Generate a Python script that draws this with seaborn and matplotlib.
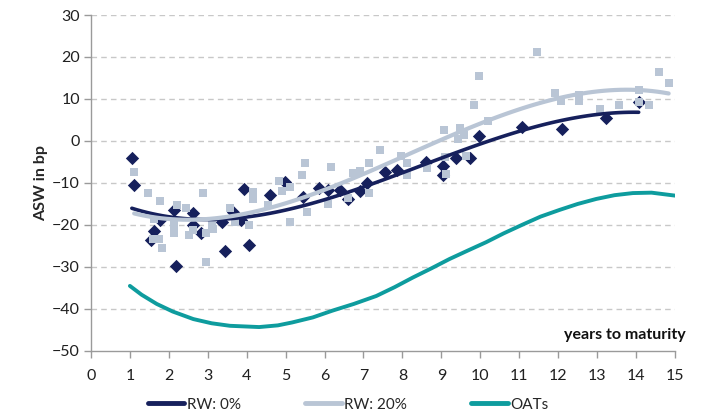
from matplotlib import pyplot as plt
import pandas as pd
import numpy as np
import seaborn as sns

# RW: 0% (dark diamonds)
rw0_years = [1.05, 1.1, 1.53, 1.63, 1.77, 2.14, 2.19, 2.61, 2.61, 2.83,
             3.36, 3.44, 3.66, 3.85, 3.92, 4.07, 4.6, 4.99, 5.45, 5.86,
             6.1, 6.4, 6.6, 6.9, 7.1, 7.56, 7.86, 8.6, 9.05, 9.05,
             9.38, 9.74, 9.98, 11.07, 12.1, 13.23, 14.07]
rw0_asw = [-4.1, -10.5, -23.6, -21.5, -18.8, -16.4, -29.8, -17.1, -20.0, -21.8,
           -19.2, -26.1, -16.8, -18.8, -11.5, -24.8, -12.9, -9.7, -13.3, -11.1,
           -11.7, -11.7, -13.8, -11.8, -10.0, -7.3, -6.9, -5.0, -5.9, -8.2,
           -4.1, -4.0, 1.3, 3.3, 2.9, 5.5, 9.4]

# RW: 20% (light squares)
rw20_years = [1.11, 1.47, 1.62, 1.6, 1.76, 1.77, 1.83, 2.14, 2.14, 2.2,
              2.44, 2.53, 2.61, 2.89, 2.96, 2.96, 3.1, 3.13, 3.56, 3.7,
              4.06, 4.15, 4.15, 4.55, 4.84, 4.9, 5.12, 5.12, 5.42, 5.51,
              5.54, 6.1, 6.17, 6.6, 6.74, 6.92, 7.13, 7.13, 7.43, 7.97,
              8.12, 8.12, 8.63, 9.08, 9.1, 9.13, 9.44, 9.47, 9.57, 9.63,
              9.83, 9.98, 10.21, 11.47, 11.93, 12.08, 12.53, 12.53, 13.08, 13.56,
              14.07, 14.07, 14.33, 14.58, 14.84]
rw20_asw = [-7.5, -12.5, -18.6, -23.4, -23.4, -14.2, -25.4, -20.0, -21.8, -15.2,
            -16.0, -22.5, -21.2, -12.5, -21.8, -28.7, -20.0, -21.0, -16.0, -19.4,
            -20.1, -12.1, -13.8, -15.2, -9.5, -11.8, -10.9, -19.4, -8.1, -5.2,
            -16.8, -15.1, -6.1, -13.6, -7.7, -7.1, -5.2, -12.5, -2.1, -3.6,
            -5.3, -8.1, -6.5, 2.5, -3.9, -7.9, 0.4, 3.2, 1.4, -3.5,
            8.6, 15.5, 4.8, 21.3, 11.5, 9.6, 11.0, 9.6, 7.6, 8.6,
            12.1, 9.4, 8.6, 16.5, 13.9]

# OATs curve
oat_years = [1.0, 1.3, 1.69, 2.1, 2.63, 3.1, 3.57, 4.32, 4.8, 5.17,
             5.7, 6.2, 6.75, 7.33, 7.8, 8.27, 8.75, 9.21, 9.7, 10.15,
             10.6, 11.09, 11.55, 12.04, 12.5, 12.98, 13.45, 13.92, 14.4, 15.0]
oat_asw = [-34.5, -36.6, -38.8, -40.6, -42.4, -43.4, -44.0, -44.3, -43.9, -43.2,
           -42.0, -40.4, -38.8, -36.9, -34.8, -32.5, -30.3, -28.1, -26.0, -24.1,
           -22.0, -19.9, -18.0, -16.4, -15.0, -13.8, -12.9, -12.4, -12.3, -13.0]

navy = "#16205c"
light = "#b9c5d5"
teal = "#0e9c9e"

sns.set_style("white")
plt.rcParams['font.family'] = ['Lato', 'DejaVu Sans']

fig = plt.figure(figsize=(7.03, 4.19), dpi=100)
ax = fig.add_axes([0.1294, 0.1623, 0.8306, 0.8019])

ax.scatter(rw0_years, rw0_asw, marker="D", s=46, color=navy, linewidths=0, zorder=3)
ax.scatter(rw20_years, rw20_asw, marker="s", s=26, color=light, linewidths=0, zorder=4)

sns.regplot(x=rw0_years, y=rw0_asw, order=3, ci=None, scatter=False, ax=ax,
            line_kws=dict(color=navy, lw=2.6, zorder=5, solid_capstyle="round"))
sns.regplot(x=rw20_years, y=rw20_asw, order=3, ci=None, scatter=False, ax=ax,
            line_kws=dict(color=light, lw=3.0, zorder=6, solid_capstyle="round"))
sns.lineplot(x=oat_years, y=oat_asw, color=teal, lw=2.8, ax=ax, zorder=5)

ax.set_xlim(0, 15)
ax.set_ylim(-50, 30)
ax.set_xticks(range(0, 16))
ax.set_yticks(range(-50, 31, 10))
for yv in range(-40, 31, 10):
    ax.axhline(yv, color="#c8c8c8", lw=1.0, ls=(0, (4, 3)), zorder=1)

for side in ["top", "right"]:
    ax.spines[side].set_visible(False)
for side in ["left", "bottom"]:
    ax.spines[side].set_color("#9a9a9a")
    ax.spines[side].set_linewidth(1.0)
ax.tick_params(axis="both", direction="out", length=5, width=1.0, color="#9a9a9a",
               labelsize=11.5, labelcolor="#202020", left=True, bottom=True)
ax.tick_params(axis="x", pad=8)
ax.tick_params(axis="y", pad=3)

ax.set_ylabel("ASW in bp", fontsize=11.5, fontweight="bold", labelpad=3)
ax.text(1.019, 0.028, "years to maturity", transform=ax.transAxes, ha="right",
        va="bottom", fontsize=11.5, fontweight="bold", color="#111111")

handles = [plt.Line2D([], [], color=navy, lw=3.5),
           plt.Line2D([], [], color=light, lw=3.5),
           plt.Line2D([], [], color=teal, lw=3.5)]
fig.legend(handles, ["RW: 0%", "RW: 20%", "OATs"], loc="lower center",
           bbox_to_anchor=(0.495, -0.015), ncol=3, frameon=False, fontsize=11,
           handlelength=2.4, handletextpad=0.15, columnspacing=4.2)

fig.savefig("out.png", dpi=100)
